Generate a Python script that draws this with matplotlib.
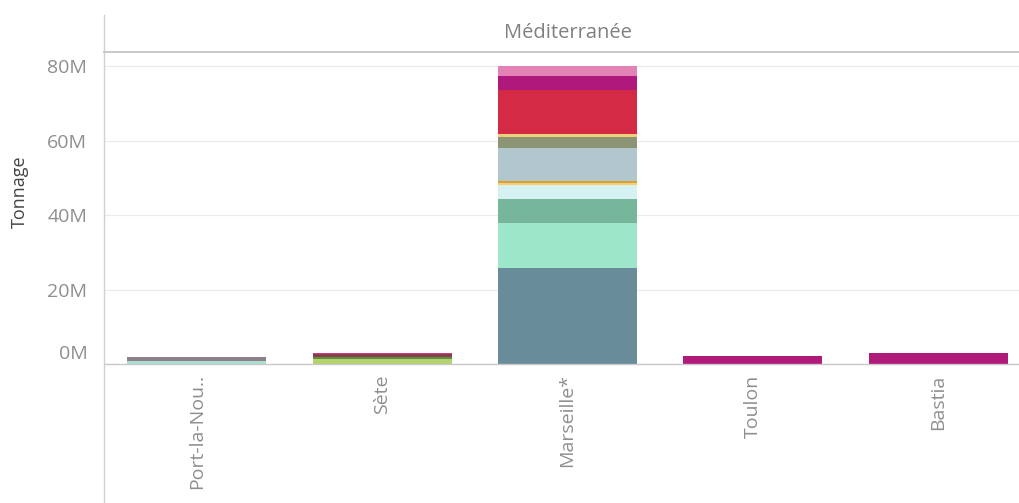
import matplotlib
matplotlib.use("Agg")
import matplotlib.pyplot as plt
import matplotlib.transforms as mtransforms
from matplotlib.ticker import FuncFormatter

# ---- data (millions of tonnes), segments listed bottom -> top ----
categories = ["Port-la-Nou..", "Sète", "Marseille*", "Toulon", "Bastia"]
panel_title = "Méditerranée"
y_label = "Tonnage"
y_ticks = [0, 20, 40, 60, 80]

port_la_nouvelle_values = [0.9, 0.95]
port_la_nouvelle_colors = ["#a9dfcf", "#8f7f8d"]

sete_values = [1.5, 0.3, 0.9, 0.35]
sete_colors = ["#b5d36c", "#5a8f45", "#8a3d4c", "#cf3c86"]

marseille_values = [25.7, 12.1, 6.5, 3.9, 0.35, 0.55, 8.8, 3.1, 0.9, 11.7, 3.8, 2.6]
marseille_colors = ["#698c9b", "#9ee6c9", "#76b79c", "#d6f1f1", "#f4d070",
                    "#d9a13a", "#b2c6cd", "#8b9573", "#efd07a", "#d52a45",
                    "#b0197c", "#e382b4"]

toulon_values = [2.1]
toulon_colors = ["#b01b7b"]

bastia_values = [3.0]
bastia_colors = ["#b01b7b"]

series_values = [port_la_nouvelle_values, sete_values, marseille_values,
                 toulon_values, bastia_values]
series_colors = [port_la_nouvelle_colors, sete_colors, marseille_colors,
                 toulon_colors, bastia_colors]

plt.rcParams['font.family'] = ['Open Sans', 'DejaVu Sans']

W, H = 1019, 503
fig = plt.figure(figsize=(W / 100, H / 100), dpi=100)

def fx(px):
    return px / W

def fy(py):
    return 1 - py / H

# main axes: left at x=104, top at y=52, baseline at y=366
ax = fig.add_axes([fx(104), fy(366), 927 / W, (366 - 52) / H])
ax.set_xlim(-0.5, len(categories) - 0.5)
ax.set_ylim(-0.5, 83.8)

for i, (vals, cols) in enumerate(zip(series_values, series_colors)):
    bottom = 0.0
    for v, c in zip(vals, cols):
        ax.bar(i, v, bottom=bottom, width=0.75, color=c, edgecolor="none", zorder=3)
        bottom += v

ax.set_yticks(y_ticks)
ax.yaxis.set_major_formatter(FuncFormatter(lambda v, p: f"{int(v)}M"))
ax.tick_params(axis="y", length=0, pad=12, labelsize=14, labelcolor="#8f8f8f")
ax.set_xticks(range(len(categories)))
ax.set_xticklabels(categories, rotation=90, va="top", ha="center")
ax.tick_params(axis="x", length=0, pad=6, labelsize=14, labelcolor="#8f8f8f")

# Tableau nudges the bottom tick label upward
fig.canvas.draw()
zero_label = ax.get_yticklabels()[0]
zero_label.set_transform(zero_label.get_transform() +
                         mtransforms.ScaledTranslation(0, 12 / 100, fig.dpi_scale_trans))

for t in y_ticks[1:]:
    ax.axhline(t, color="#ececec", lw=0.9, zorder=1)
ax.axhline(0, color="#c8c8c8", lw=1.0, zorder=4)

for s in ["top", "right", "bottom", "left"]:
    ax.spines[s].set_visible(False)

fig.text(fx(20), fy(192), y_label, rotation=90, ha="center", va="center",
         fontsize=13, color="#444444")

# left frame line spanning the full height and header line
fig.add_artist(plt.Line2D([fx(104), fx(104)], [fy(15), fy(503)],
                          color="#d0d0d0", lw=1.0, transform=fig.transFigure))
fig.add_artist(plt.Line2D([fx(104), 1], [fy(52), fy(52)],
                          color="#c8c8c8", lw=1.4, transform=fig.transFigure))
fig.text(fx(568), fy(33), panel_title, ha="center", va="center",
         fontsize=14.5, color="#808080")

fig.savefig("out.png", dpi=100, facecolor="white")
